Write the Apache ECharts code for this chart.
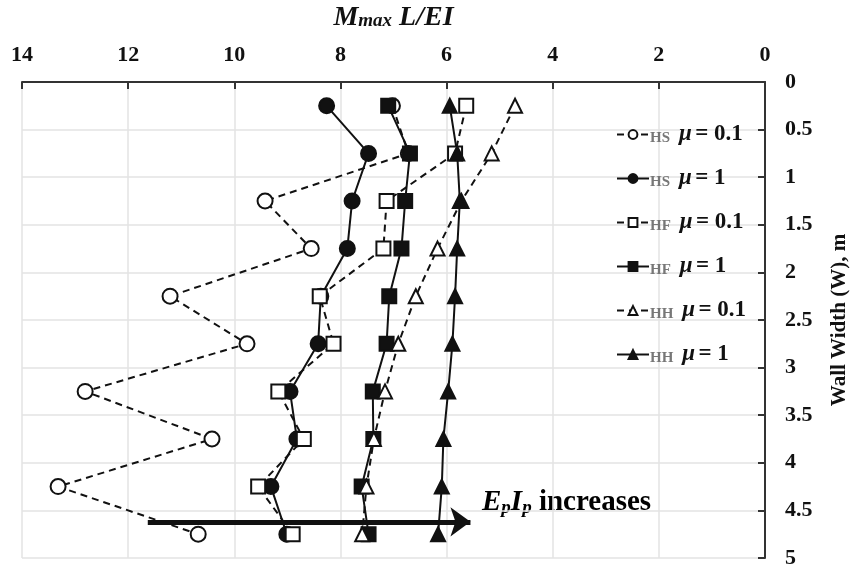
<!DOCTYPE html>
<html>
<head>
<meta charset="utf-8">
<script src="https://cdn.jsdelivr.net/npm/echarts@6/dist/echarts.min.js"></script>
<style>html,body{margin:0;padding:0;background:#fff}#c{width:853px;height:567px}</style>
</head>
<body>
<div id="c"></div>
<script>
// Wall width (m) for each measured point
const widths = [0.25, 0.75, 1.25, 1.75, 2.25, 2.75, 3.25, 3.75, 4.25, 4.75];
// Mmax L/EI values
const hsMu01 = [7.02, 6.72, 9.42, 8.55, 11.21, 9.76, 12.81, 10.42, 13.32, 10.68];
const hsMu1  = [8.26, 7.47, 7.78, 7.87, 8.37, 8.42, 8.95, 8.82, 9.31, 9.01];
const hfMu01 = [5.63, 5.84, 7.13, 7.19, 8.39, 8.13, 9.17, 8.69, 9.55, 8.90];
const hfMu1  = [7.10, 6.69, 6.78, 6.85, 7.08, 7.13, 7.39, 7.38, 7.60, 7.47];
const hhMu01 = [4.71, 5.15, 5.72, 6.17, 6.58, 6.91, 7.16, 7.37, 7.51, 7.59];
const hhMu1  = [5.94, 5.80, 5.75, 5.80, 5.84, 5.89, 5.97, 6.06, 6.09, 6.16];
const seriesNames = ['HS0.1', 'HS1', 'HF0.1', 'HF1', 'HH0.1', 'HH1'];
const legendTags = ['HS', 'HS', 'HF', 'HF', 'HH', 'HH'];
const legendMu = ['= 0.1', '= 1', '= 0.1', '= 1', '= 0.1', '= 1'];
const arrowFrom = [11.63, 4.62];
const arrowTo = [5.55, 4.62];

const serif = '"Liberation Serif", "Times New Roman", serif';
const pairs = v => v.map((x, i) => [x, widths[i]]);

function mk(name, data, symbol, filled, dashed, size) {
  return {
    name, type: 'line', data: pairs(data), symbol, symbolSize: size,
    lineStyle: { color: '#111', width: 2, type: dashed ? [7, 5] : 'solid' },
    itemStyle: { color: filled ? '#111' : '#fff', borderColor: '#111', borderWidth: 2 },
    emphasis: { disabled: true }, z: 2
  };
}

const series = [
  mk(seriesNames[0], hsMu01, 'circle', false, true, 15),
  mk(seriesNames[1], hsMu1, 'circle', true, false, 15),
  mk(seriesNames[2], hfMu01, 'rect', false, true, 14),
  mk(seriesNames[3], hfMu1, 'rect', true, false, 14),
  mk(seriesNames[4], hhMu01, 'triangle', false, true, 14),
  mk(seriesNames[5], hhMu1, 'triangle', true, false, 14)
];
series[5].markLine = {
  silent: true, symbol: ['none', 'arrow'], symbolSize: [22, 20],
  lineStyle: { color: '#111', width: 5, type: 'solid' },
  label: { show: false },
  data: [[{ coord: arrowFrom }, { coord: arrowTo }]]
};

const chart = echarts.init(document.getElementById('c'), null, { renderer: 'canvas' });
chart.setOption({
  animation: false,
  backgroundColor: '#fff',
  grid: { left: 22, right: 88, top: 82, bottom: 9, containLabel: false, outerBoundsMode: 'none' },
  xAxis: {
    type: 'value', position: 'top', inverse: true, min: 0, max: 14, interval: 2,
    name: '{m|M}{s|max}{m| L/EI}', nameLocation: 'middle', nameGap: 50,
    nameTextStyle: { rich: {
      m: { fontFamily: serif, fontWeight: 'bold', fontStyle: 'italic', fontSize: 28, color: '#111' },
      s: { fontFamily: serif, fontWeight: 'bold', fontStyle: 'italic', fontSize: 19, color: '#111', padding: [7, 0, 0, 0] }
    } },
    axisLine: { show: true, lineStyle: { color: '#333', width: 2 } },
    axisTick: { show: true, inside: true, length: 7, lineStyle: { color: '#333', width: 2 } },
    axisLabel: { fontFamily: serif, fontWeight: 'bold', fontSize: 22, color: '#111', margin: 16 },
    splitLine: { show: true, lineStyle: { color: '#e3e3e3', width: 1.5 } }
  },
  yAxis: {
    type: 'value', position: 'right', inverse: true, min: 0, max: 5, interval: 0.5,
    name: 'Wall Width (W), m', nameLocation: 'middle', nameGap: 64, nameRotate: 90,
    nameTextStyle: { fontFamily: serif, fontWeight: 'bold', fontSize: 21, color: '#111' },
    axisLine: { show: true, lineStyle: { color: '#333', width: 2 } },
    axisTick: { show: true, inside: true, length: 7, lineStyle: { color: '#333', width: 2 } },
    axisLabel: { fontFamily: serif, fontWeight: 'bold', fontSize: 22, color: '#111', margin: 20, align: 'left', padding: [4, 0, 0, 0] },
    splitLine: { show: true, lineStyle: { color: '#e3e3e3', width: 1.5 } }
  },
  legend: {
    orient: 'vertical', left: 611, top: 118, itemGap: 21, itemWidth: 32, itemHeight: 11,
    data: seriesNames, selectedMode: false,
    formatter: name => {
      const i = seriesNames.indexOf(name);
      return '{a|' + legendTags[i] + '}{u|μ} {b|' + legendMu[i] + '}';
    },
    textStyle: { padding: [0, 0, 0, -4], rich: {
      a: { fontFamily: serif, fontWeight: 'bold', fontSize: 15, color: '#777', padding: [7, 9, 0, 0] },
      u: { fontFamily: serif, fontWeight: 'bold', fontStyle: 'italic', fontSize: 23, color: '#111', lineHeight: 22 },
      b: { fontFamily: serif, fontWeight: 'bold', fontSize: 23, color: '#111', lineHeight: 22 }
    } }
  },
  graphic: [{
    type: 'text', left: 482, top: 488, silent: true,
    style: {
      text: '{i|E}{sub|p}{i|I}{sub|p}{t| increases}',
      rich: {
        i: { fontFamily: serif, fontWeight: 'bold', fontStyle: 'italic', fontSize: 29, color: '#111' },
        sub: { fontFamily: serif, fontWeight: 'bold', fontStyle: 'italic', fontSize: 19, color: '#111', padding: [11, 0, 0, 0] },
        t: { fontFamily: serif, fontWeight: 'bold', fontSize: 29, color: '#111' }
      }
    }
  }],
  series
});
</script>
</body>
</html>
